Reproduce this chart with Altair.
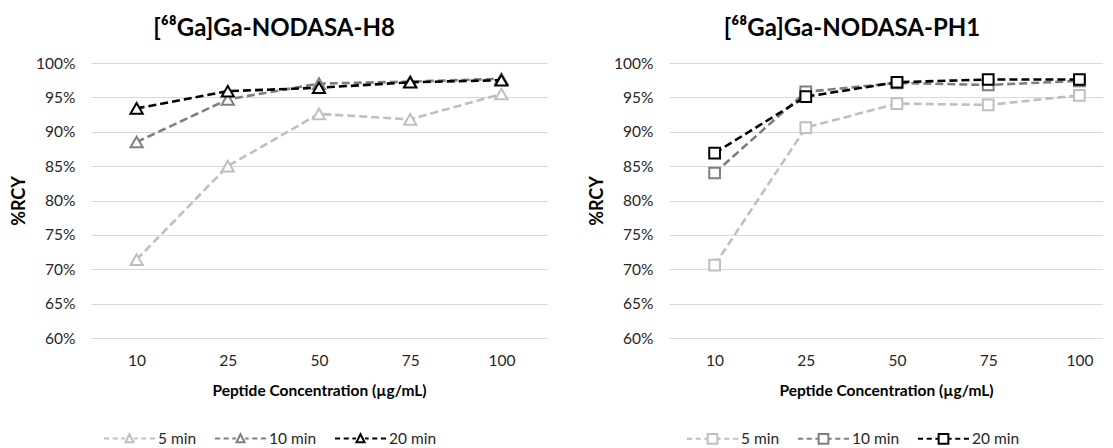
import altair as alt
import pandas as pd

concentrations = ["10", "25", "50", "75", "100"]
series_names = ["5 min", "10 min", "20 min"]
series_colors = ["#BFBFBF", "#7F7F7F", "#000000"]
y_ticks = [60, 65, 70, 75, 80, 85, 90, 95, 100]

# [68Ga]Ga-NODASA-H8 (%RCY)
h8_5min = [71.4, 85.0, 92.6, 91.8, 95.5]
h8_10min = [88.5, 94.7, 97.0, 97.3, 97.7]
h8_20min = [93.4, 95.9, 96.4, 97.2, 97.5]

# [68Ga]Ga-NODASA-PH1 (%RCY)
ph1_5min = [70.6, 90.6, 94.1, 93.9, 95.3]
ph1_10min = [84.0, 95.8, 97.1, 96.8, 97.4]
ph1_20min = [86.9, 95.1, 97.2, 97.6, 97.6]

FONT = "Lato, 'Noto Sans', sans-serif"
TEXT = "#262626"

TRI_PATH = ("M-1,0L-0.8,0M-0.66,0L-0.46,0M-0.32,0L-0.18,0"
            "M-0.16,0.15L0,-0.17L0.16,0.15Z"
            "M0.18,0L0.32,0M0.46,0L0.66,0M0.8,0L1,0")
SQ_PATH = ("M-1,0L-0.8,0M-0.66,0L-0.46,0M-0.32,0L-0.2,0"
           "M-0.19,-0.19L0.19,-0.19L0.19,0.19L-0.19,0.19Z"
           "M0.2,0L0.32,0M0.46,0L0.66,0M0.8,0L1,0")


def make_df(series_values):
    rows = []
    for s, vals in zip(series_names, series_values):
        for c, v in zip(concentrations, vals):
            rows.append({"conc": c, "series": s, "rcy": v})
    return pd.DataFrame(rows)


def panel(df, title, shape, size, legend_path, width, xscale, legend_x, title_dx):
    stroke_scale = alt.Scale(domain=series_names, range=series_colors)
    x = alt.X(
        "conc:N", sort=concentrations, scale=xscale,
        axis=alt.Axis(title="Peptide Concentration (µg/mL)", labelAngle=0,
                      ticks=False, tickSize=0, domain=False, grid=False,
                      labelFont=FONT, labelFontSize=15.5, labelColor=TEXT,
                      labelPadding=15, titleFont=FONT, titleFontSize=15.5,
                      titleFontWeight="bold", titleColor="#000000",
                      titlePadding=15),
    )
    y = alt.Y(
        "rcy:Q", scale=alt.Scale(domain=[60, 100], nice=False, zero=False),
        axis=alt.Axis(values=y_ticks, labelExpr="datum.value + '%'",
                      title="%RCY", ticks=False, tickSize=0, domain=False,
                      grid=True, gridColor="#D9D9D9", gridWidth=1,
                      labelFont=FONT, labelFontSize=15.5, labelColor=TEXT,
                      labelPadding=16, titleFont=FONT, titleFontSize=18,
                      titleFontWeight="bold", titleColor="#000000",
                      titlePadding=7),
    )
    legend = alt.Legend(
        title=None, orient="none", direction="horizontal",
        legendX=legend_x, legendY=349, padding=0,
        symbolType=legend_path, symbolSize=2600, symbolStrokeWidth=2,
        symbolFillColor="white", symbolDash=[1, 0], symbolOpacity=1,
        labelFont=FONT, labelFontSize=15.5, labelColor=TEXT,
        labelOffset=2, columnPadding=14,
    )
    layers = []
    for s in series_names:
        base = alt.Chart(df).transform_filter(alt.datum.series == s)
        line = base.mark_line(strokeWidth=2.6, strokeDash=[8, 4]).encode(
            x=x, y=y,
            stroke=alt.Stroke("series:N", scale=stroke_scale, legend=legend),
        )
        pts = base.mark_point(shape=shape, size=size, filled=True, fill="white",
                              strokeWidth=2, opacity=1).encode(
            x=x, y=y,
            stroke=alt.Stroke("series:N", scale=stroke_scale, legend=None),
        )
        layers += [line, pts]
    return alt.layer(*layers).properties(
        width=width, height=275,
        title=alt.TitleParams(text=title, font=FONT, fontSize=24,
                              fontWeight="bold", color="#000000",
                              anchor="middle", frame="group", dx=title_dx,
                              offset=15),
    )


left = panel(make_df([h8_5min, h8_10min, h8_20min]), "[⁶⁸Ga]Ga-NODASA-H8",
             "triangle-up", 150, TRI_PATH, 456,
             alt.Scale(type="point", padding=0.5), 12, -45)
right = panel(make_df([ph1_5min, ph1_10min, ph1_20min]), "[⁶⁸Ga]Ga-NODASA-PH1",
              "square", 115, SQ_PATH, 434,
              alt.Scale(type="point", padding=0.3794, align=0.659), 17, -34)

chart = alt.hconcat(left, right, spacing=41).resolve_scale(
    stroke="independent").resolve_legend(stroke="independent").properties(
    padding={"left": 2, "top": 9, "right": 0, "bottom": 0},
    background="white",
).configure_view(stroke=None)

chart.save("out.html", embed_options={"renderer": "svg", "actions": False})
